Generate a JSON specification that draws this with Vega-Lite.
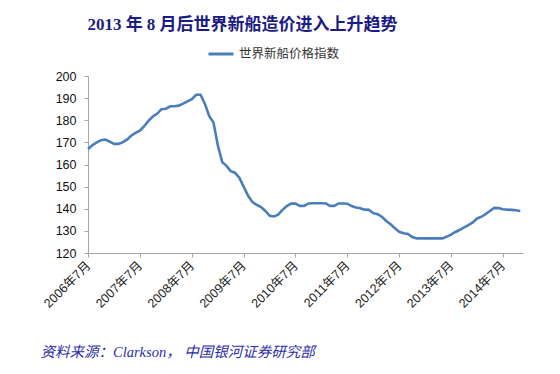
{
  "$schema": "https://vega.github.io/schema/vega-lite/v6.json",
  "width": 435,
  "height": 177,
  "autosize": "none",
  "padding": {"left": 88, "top": 76, "right": 37, "bottom": 121},
  "background": "white",
  "config": {"view": {"stroke": null}},
  "title": {
    "text": "2013 年 8 月后世界新船造价进入上升趋势",
    "font": "Liberation Serif, Noto Sans CJK SC",
    "fontSize": 17,
    "fontWeight": "bold",
    "color": "#1c1c86",
    "anchor": "middle",
    "frame": "group",
    "dx": -63,
    "dy": 23,
    "offset": 12,
    "baseline": "bottom"
  },
  "data": {
    "values": [
      {"d": "2006/07/01", "v": 167, "s": "世界新船价格指数"},
      {"d": "2006/08/01", "v": 168.7, "s": "世界新船价格指数"},
      {"d": "2006/09/01", "v": 170, "s": "世界新船价格指数"},
      {"d": "2006/10/01", "v": 171, "s": "世界新船价格指数"},
      {"d": "2006/11/01", "v": 171.3, "s": "世界新船价格指数"},
      {"d": "2006/12/01", "v": 170.3, "s": "世界新船价格指数"},
      {"d": "2007/01/01", "v": 169.3, "s": "世界新船价格指数"},
      {"d": "2007/02/01", "v": 169.3, "s": "世界新船价格指数"},
      {"d": "2007/03/01", "v": 170, "s": "世界新船价格指数"},
      {"d": "2007/04/01", "v": 171.2, "s": "世界新船价格指数"},
      {"d": "2007/05/01", "v": 173, "s": "世界新船价格指数"},
      {"d": "2007/06/01", "v": 174.3, "s": "世界新船价格指数"},
      {"d": "2007/07/01", "v": 175.3, "s": "世界新船价格指数"},
      {"d": "2007/08/01", "v": 177.3, "s": "世界新船价格指数"},
      {"d": "2007/09/01", "v": 179.8, "s": "世界新船价格指数"},
      {"d": "2007/10/01", "v": 181.7, "s": "世界新船价格指数"},
      {"d": "2007/11/01", "v": 183, "s": "世界新船价格指数"},
      {"d": "2007/12/01", "v": 185, "s": "世界新船价格指数"},
      {"d": "2008/01/01", "v": 185.2, "s": "世界新船价格指数"},
      {"d": "2008/02/01", "v": 186.3, "s": "世界新船价格指数"},
      {"d": "2008/03/01", "v": 186.3, "s": "世界新船价格指数"},
      {"d": "2008/04/01", "v": 186.6, "s": "世界新船价格指数"},
      {"d": "2008/05/01", "v": 187.5, "s": "世界新船价格指数"},
      {"d": "2008/06/01", "v": 188.5, "s": "世界新船价格指数"},
      {"d": "2008/07/01", "v": 189.5, "s": "世界新船价格指数"},
      {"d": "2008/08/01", "v": 191.5, "s": "世界新船价格指数"},
      {"d": "2008/09/01", "v": 191.5, "s": "世界新船价格指数"},
      {"d": "2008/10/01", "v": 187.5, "s": "世界新船价格指数"},
      {"d": "2008/11/01", "v": 181.8, "s": "世界新船价格指数"},
      {"d": "2008/12/01", "v": 179, "s": "世界新船价格指数"},
      {"d": "2009/01/01", "v": 168.5, "s": "世界新船价格指数"},
      {"d": "2009/02/01", "v": 161, "s": "世界新船价格指数"},
      {"d": "2009/03/01", "v": 159.5, "s": "世界新船价格指数"},
      {"d": "2009/04/01", "v": 157, "s": "世界新船价格指数"},
      {"d": "2009/05/01", "v": 156.3, "s": "世界新船价格指数"},
      {"d": "2009/06/01", "v": 154, "s": "世界新船价格指数"},
      {"d": "2009/07/01", "v": 150, "s": "世界新船价格指数"},
      {"d": "2009/08/01", "v": 146, "s": "世界新船价格指数"},
      {"d": "2009/09/01", "v": 143, "s": "世界新船价格指数"},
      {"d": "2009/10/01", "v": 141.8, "s": "世界新船价格指数"},
      {"d": "2009/11/01", "v": 140.8, "s": "世界新船价格指数"},
      {"d": "2009/12/01", "v": 139, "s": "世界新船价格指数"},
      {"d": "2010/01/01", "v": 136.8, "s": "世界新船价格指数"},
      {"d": "2010/02/01", "v": 136.5, "s": "世界新船价格指数"},
      {"d": "2010/03/01", "v": 137.3, "s": "世界新船价格指数"},
      {"d": "2010/04/01", "v": 139.5, "s": "世界新船价格指数"},
      {"d": "2010/05/01", "v": 141.2, "s": "世界新船价格指数"},
      {"d": "2010/06/01", "v": 142.3, "s": "世界新船价格指数"},
      {"d": "2010/07/01", "v": 142.3, "s": "世界新船价格指数"},
      {"d": "2010/08/01", "v": 141.3, "s": "世界新船价格指数"},
      {"d": "2010/09/01", "v": 141.3, "s": "世界新船价格指数"},
      {"d": "2010/10/01", "v": 142.4, "s": "世界新船价格指数"},
      {"d": "2010/11/01", "v": 142.5, "s": "世界新船价格指数"},
      {"d": "2010/12/01", "v": 142.5, "s": "世界新船价格指数"},
      {"d": "2011/01/01", "v": 142.5, "s": "世界新船价格指数"},
      {"d": "2011/02/01", "v": 142.4, "s": "世界新船价格指数"},
      {"d": "2011/03/01", "v": 141.3, "s": "世界新船价格指数"},
      {"d": "2011/04/01", "v": 141.3, "s": "世界新船价格指数"},
      {"d": "2011/05/01", "v": 142.4, "s": "世界新船价格指数"},
      {"d": "2011/06/01", "v": 142.4, "s": "世界新船价格指数"},
      {"d": "2011/07/01", "v": 142.3, "s": "世界新船价格指数"},
      {"d": "2011/08/01", "v": 141.2, "s": "世界新船价格指数"},
      {"d": "2011/09/01", "v": 140.6, "s": "世界新船价格指数"},
      {"d": "2011/10/01", "v": 140.2, "s": "世界新船价格指数"},
      {"d": "2011/11/01", "v": 139.6, "s": "世界新船价格指数"},
      {"d": "2011/12/01", "v": 139.5, "s": "世界新船价格指数"},
      {"d": "2012/01/01", "v": 138, "s": "世界新船价格指数"},
      {"d": "2012/02/01", "v": 137.5, "s": "世界新船价格指数"},
      {"d": "2012/03/01", "v": 136.4, "s": "世界新船价格指数"},
      {"d": "2012/04/01", "v": 134.5, "s": "世界新船价格指数"},
      {"d": "2012/05/01", "v": 133, "s": "世界新船价格指数"},
      {"d": "2012/06/01", "v": 131.2, "s": "世界新船价格指数"},
      {"d": "2012/07/01", "v": 129.6, "s": "世界新船价格指数"},
      {"d": "2012/08/01", "v": 128.9, "s": "世界新船价格指数"},
      {"d": "2012/09/01", "v": 128.6, "s": "世界新船价格指数"},
      {"d": "2012/10/01", "v": 127.2, "s": "世界新船价格指数"},
      {"d": "2012/11/01", "v": 126.6, "s": "世界新船价格指数"},
      {"d": "2012/12/01", "v": 126.6, "s": "世界新船价格指数"},
      {"d": "2013/01/01", "v": 126.6, "s": "世界新船价格指数"},
      {"d": "2013/02/01", "v": 126.6, "s": "世界新船价格指数"},
      {"d": "2013/03/01", "v": 126.6, "s": "世界新船价格指数"},
      {"d": "2013/04/01", "v": 126.6, "s": "世界新船价格指数"},
      {"d": "2013/05/01", "v": 126.6, "s": "世界新船价格指数"},
      {"d": "2013/06/01", "v": 127.4, "s": "世界新船价格指数"},
      {"d": "2013/07/01", "v": 128.3, "s": "世界新船价格指数"},
      {"d": "2013/08/01", "v": 129.5, "s": "世界新船价格指数"},
      {"d": "2013/09/01", "v": 130.5, "s": "世界新船价格指数"},
      {"d": "2013/10/01", "v": 131.6, "s": "世界新船价格指数"},
      {"d": "2013/11/01", "v": 132.6, "s": "世界新船价格指数"},
      {"d": "2013/12/01", "v": 133.8, "s": "世界新船价格指数"},
      {"d": "2014/01/01", "v": 135.6, "s": "世界新船价格指数"},
      {"d": "2014/02/01", "v": 136.4, "s": "世界新船价格指数"},
      {"d": "2014/03/01", "v": 137.6, "s": "世界新船价格指数"},
      {"d": "2014/04/01", "v": 139, "s": "世界新船价格指数"},
      {"d": "2014/05/01", "v": 140.4, "s": "世界新船价格指数"},
      {"d": "2014/06/01", "v": 140.3, "s": "世界新船价格指数"},
      {"d": "2014/07/01", "v": 139.8, "s": "世界新船价格指数"},
      {"d": "2014/08/01", "v": 139.6, "s": "世界新船价格指数"},
      {"d": "2014/09/01", "v": 139.5, "s": "世界新船价格指数"},
      {"d": "2014/10/01", "v": 139.3, "s": "世界新船价格指数"},
      {"d": "2014/11/01", "v": 139, "s": "世界新船价格指数"}
    ]
  },
  "mark": {"type": "line", "strokeWidth": 2.6, "interpolate": "linear"},
  "encoding": {
    "x": {
      "field": "d",
      "type": "temporal",
      "scale": {"domain": [{"year": 2006, "month": 7, "date": 1}, {"year": 2014, "month": 11, "date": 20}]},
      "axis": {
        "values": [
          {"year": 2006, "month": 7, "date": 1},
          {"year": 2007, "month": 7, "date": 1},
          {"year": 2008, "month": 7, "date": 1},
          {"year": 2009, "month": 7, "date": 1},
          {"year": 2010, "month": 7, "date": 1},
          {"year": 2011, "month": 7, "date": 1},
          {"year": 2012, "month": 7, "date": 1},
          {"year": 2013, "month": 7, "date": 1},
          {"year": 2014, "month": 7, "date": 1}
        ],
        "format": "%Y年%-m月",
        "labelAngle": -45,
        "labelAlign": "right",
        "labelBaseline": "middle",
        "labelFont": "Liberation Sans, Noto Sans CJK SC",
        "labelFontSize": 12.5,
        "labelColor": "#222222",
        "labelPadding": 6,
        "labelOverlap": false,
        "labelFlush": false,
        "grid": false,
        "domainColor": "#a6a6a6",
        "tickColor": "#a6a6a6",
        "tickSize": 4,
        "title": "资料来源：Clarkson， 中国银河证券研究部",
        "titleFont": "Liberation Serif, Noto Sans CJK SC",
        "titleFontSize": 14.5,
        "titleFontStyle": "italic",
        "titleFontWeight": "normal",
        "titleColor": "#2c2ca8",
        "titleX": -48,
        "titleY": 99,
        "titleAlign": "left",
        "titleAnchor": null,
        "titleBaseline": "middle"
      }
    },
    "y": {
      "field": "v",
      "type": "quantitative",
      "scale": {"domain": [120, 200], "nice": false, "zero": false},
      "axis": {
        "values": [120, 130, 140, 150, 160, 170, 180, 190, 200],
        "labelFont": "Liberation Sans",
        "labelFontSize": 12.5,
        "labelColor": "#111111",
        "labelPadding": 8,
        "grid": false,
        "domainColor": "#a6a6a6",
        "tickColor": "#a6a6a6",
        "tickSize": 4,
        "title": null
      }
    },
    "color": {
      "field": "s",
      "type": "nominal",
      "scale": {"range": ["#4a7ebb"]},
      "legend": {
        "orient": "none",
        "legendX": 119,
        "legendY": -36,
        "title": null,
        "symbolType": "stroke",
        "symbolSize": 625,
        "symbolStrokeWidth": 3,
        "labelFont": "Noto Sans CJK SC",
        "labelFontSize": 12.5,
        "labelColor": "#333333",
        "labelOffset": 4
      }
    }
  }
}
